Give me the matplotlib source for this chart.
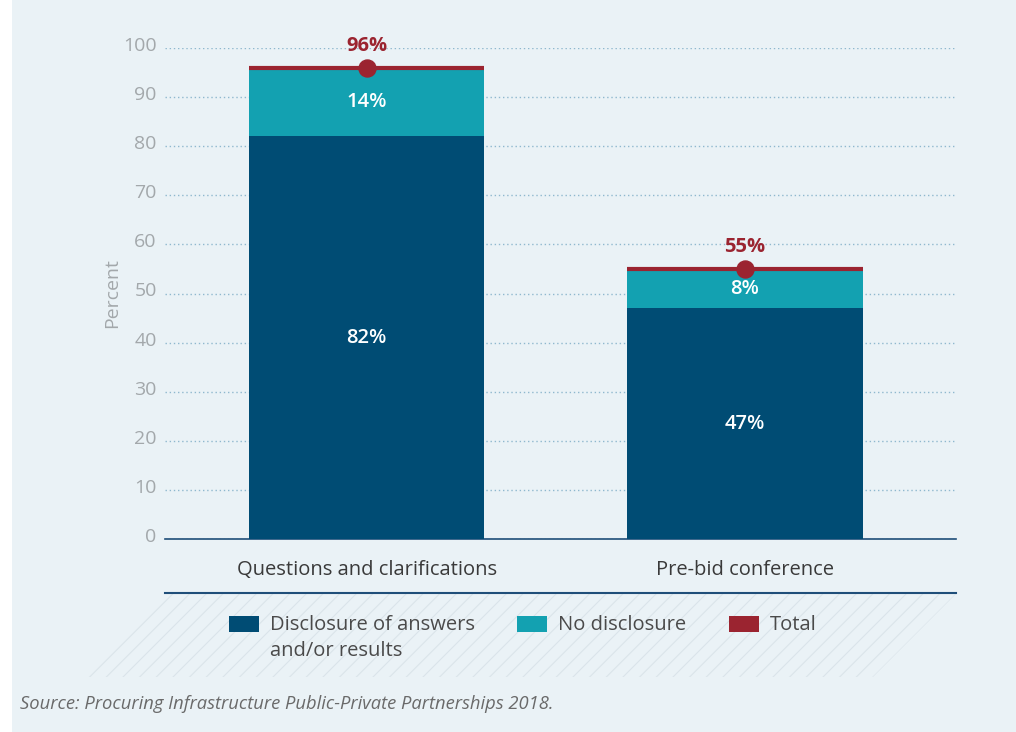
import numpy as np
import matplotlib
matplotlib.use("Agg")
import matplotlib.pyplot as plt
import matplotlib.transforms as mtransforms
from matplotlib.patches import Polygon, Rectangle

# data
categories = ["Questions and clarifications", "Pre-bid conference"]
disclosure = [82, 47]
no_disclosure = [14, 8]
totals = [96, 55]
series_names = ["Disclosure of answers\nand/or results", "No disclosure", "Total"]

c_dark = "#004C74"
c_teal = "#13A1B1"
c_red = "#9B2430"
bg = "#EAF2F6"

plt.rcParams['font.family'] = ['Open Sans', 'DejaVu Sans']
plt.rcParams['hatch.linewidth'] = 0.8

fig = plt.figure(figsize=(10.16, 7.32), dpi=100, facecolor="white")
W, H = 1016, 732

# light panel behind everything
fig.patches.append(Rectangle((12 / W, 0), 1 - 12 / W, 1, transform=fig.transFigure,
                             facecolor=bg, edgecolor="none", zorder=-3))

# hatched shadow under the x labels
shadow = Polygon([(165 / W, 1 - 594 / H), (956 / W, 1 - 594 / H),
                  (873 / W, 1 - 677 / H), (82 / W, 1 - 677 / H)],
                 closed=True, transform=fig.transFigure, facecolor="none",
                 edgecolor="#DAE4EA", hatch="//", linewidth=0, zorder=-2)
fig.patches.append(shadow)

ax = fig.add_axes([165 / W, 1 - 539 / H, (956 - 165) / W, (539 - 48) / H])
ax.set_facecolor("none")

x = np.arange(len(categories))
width = 0.622
ax.bar(x, disclosure, width, color=c_dark, zorder=3)
ax.bar(x, no_disclosure, width, bottom=disclosure, color=c_teal, zorder=3)
ax.hlines(totals, x - width / 2, x + width / 2, color=c_red, linewidth=3, zorder=4)
ax.scatter(x, totals, s=150, color=c_red, zorder=5, clip_on=False)

for i in range(len(x)):
    ax.text(x[i], disclosure[i] / 2, f"{disclosure[i]}%", ha="center", va="center",
            color="white", fontsize=14.5, fontweight="semibold", zorder=6)
    ax.text(x[i], disclosure[i] + no_disclosure[i] / 2, f"{no_disclosure[i]}%",
            ha="center", va="center", color="white", fontsize=14.5,
            fontweight="semibold", zorder=6)
    ax.text(x[i], totals[i] + 2.4, f"{totals[i]}%", ha="center", va="bottom",
            color=c_red, fontsize=14.5, fontweight="bold", zorder=6)

ax.set_xlim(-0.533, 1.558)
ax.set_ylim(0, 100)
ax.set_yticks(np.arange(0, 101, 10))
ax.set_xticks(x)
ax.set_xticklabels(categories)
ax.tick_params(axis="y", length=0, pad=6, labelsize=14, labelcolor="#A3A8AB")
ax.tick_params(axis="x", length=0, pad=15, labelsize=14.5, labelcolor="#3A3A3A")
lift = mtransforms.ScaledTranslation(0, 4 / 100, fig.dpi_scale_trans)
for lbl in ax.get_yticklabels():
    lbl.set_transform(lbl.get_transform() + lift)
ax.grid(axis="y", linestyle=(0, (1, 2)), color="#8FB8CE", linewidth=1, zorder=0)
for s in ["top", "right", "left"]:
    ax.spines[s].set_visible(False)
ax.spines["bottom"].set_color("#1F4E79")
ax.spines["bottom"].set_linewidth(1.2)
ax.set_ylabel("Percent", fontsize=14, color="#A3A8AB", labelpad=0)
ax.yaxis.set_label_coords(-44 / 791, 0.5)

# line under the category labels
fig.add_artist(plt.Line2D([165 / W, 956 / W], [1 - 593 / H, 1 - 593 / H],
                          transform=fig.transFigure, color="#1F4E79", linewidth=1.5))

# legend
legend_items = [(229, c_dark, series_names[0]), (517, c_teal, series_names[1]),
                (729, c_red, series_names[2])]
for px, col, name in legend_items:
    fig.patches.append(Rectangle((px / W, 1 - 632 / H), 30 / W, 16 / H,
                                 transform=fig.transFigure, facecolor=col,
                                 edgecolor="none", zorder=3))
    fig.text((px + 41) / W, 1 - 615 / H, name, ha="left", va="top", fontsize=14.5,
             color="#4A4A4A", linespacing=1.38)

fig.text(20 / W, 1 - 704 / H, "Source: Procuring Infrastructure Public-Private Partnerships 2018.",
         ha="left", va="center", fontsize=13.2, style="italic", color="#6A6A6A")

fig.savefig("out.png", dpi=100, facecolor="white")
